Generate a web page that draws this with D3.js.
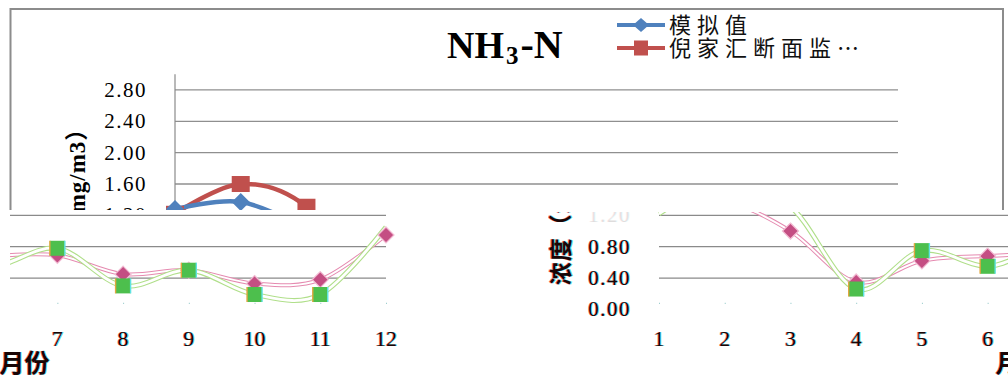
<!DOCTYPE html>
<html><head><meta charset="utf-8">
<script src="https://cdn.jsdelivr.net/npm/d3@7"></script>
<style>html,body{margin:0;padding:0;background:#fff;overflow:hidden}</style>
</head><body>
<svg id="c" width="1008" height="378"></svg>
<script>
// ---------- data ----------
const months = [1,2,3,4,5,6,7,8,9,10,11,12];
const simValues = [1.28,1.37,1.00,0.35,0.62,0.68,0.69,0.45,0.50,0.33,0.38,0.95];   // 模拟值
const obsValues = [1.22,1.60,1.31,0.26,0.75,0.55,0.78,0.30,0.50,0.19,0.19,1.05];   // 倪家汇断面监测值
const yTicks = [0,0.4,0.8,1.2,1.6,2.0,2.4,2.8];
const seriesNames = ["模拟值","倪家汇断面监…"];
const titleParts = ["NH","3","-N"];
const yTitleParts = ["浓度（","mg/m3","）"];
const xTitle = "月份";

// ---------- setup ----------
const svg = d3.select("#c");
const x = d3.scaleLinear().domain([1,12]).range([175,898]);
const y = d3.scaleLinear().domain([0,3]).range([309.4,74.3]);
const serif = "Liberation Serif, Noto Sans CJK SC, serif";
const cjk = "Noto Sans CJK SC, Liberation Serif, sans-serif";
const seamValue = 1.0;   // markers above this level are lost in the bottom (glitched) strip

function layers(mode){
  return mode==="bottom" ? [["#ff3030",-0.8,0.7],["#00dede",0.8,0.7],["#1a0505",0,1]] : [["#000",0,1]];
}
function txt(g, mode, x0, y0, str, attrs, opacity){
  layers(mode).forEach(([col,dx,op])=>{
    const t = g.append("text").attr("x",x0+dx).attr("y",y0).attr("fill",col)
      .attr("opacity",op*(opacity==null?1:opacity)).text(str);
    for (const k in attrs) t.attr(k, attrs[k]);
  });
}

const lineGen = d3.line().x((d,i)=>x(months[i])).y(d=>y(d)).curve(d3.curveCardinal.tension(0));

function drawChart(g, mode){
  const top = mode==="top";
  if (top) g.append("rect").attr("x",10.5).attr("y",9).attr("width",992.5).attr("height",360)
      .attr("fill","none").attr("stroke","#8c8c8c").attr("stroke-width",2);
  g.selectAll(null).data(yTicks.filter(t=>t>0)).enter().append("line")
    .attr("x1",x(1)).attr("x2",x(12)).attr("y1",d=>y(d)).attr("y2",d=>y(d))
    .attr("stroke", top?"#8f8f8f":"#8a8a8a").attr("stroke-width",1.3);
  if (top) g.append("line").attr("x1",x(1)).attr("x2",x(1)).attr("y1",y(0)).attr("y2",y(3))
      .attr("stroke","#8a8a8a").attr("stroke-width",1.2);
  if (!top) g.selectAll(null).data(months).enter().append("line")
      .attr("x1",d=>x(d)).attr("x2",d=>x(d)+1).attr("y1",y(0)-6).attr("y2",y(0)-6)
      .attr("stroke","#9fcfcf").attr("stroke-width",1.2);
  yTicks.forEach(t=>{
    txt(g, mode, 147, y(t)+7, d3.format(".2f")(t),
      {"text-anchor":"end","font-family":serif,"font-size":21,"letter-spacing":1.5},
      (!top && t>=1.2)?0.08:1);
  });
  months.forEach(m=>{
    txt(g, mode, x(m), 346, String(m), {"text-anchor":"middle","font-family":serif,"font-size":22});
  });
  layers(mode).forEach(([col,dx,op])=>{
    const t = g.append("text").attr("transform",`translate(${85+dx},201) rotate(-90)`)
      .attr("text-anchor","middle").attr("fill",col).attr("opacity",op)
      .attr("font-family",serif).attr("font-weight","bold").attr("font-size",23).attr("letter-spacing",1);
    t.selectAll("tspan").data(yTitleParts).enter().append("tspan").text(d=>d);
  });
  txt(g, mode, (x(1)+x(12))/2, 372, xTitle,
      {"text-anchor":"middle","font-family":serif,"font-weight":"bold","font-size":25});

  const simCol = top?"#4f81bd":"#c44e83", obsCol = top?"#c0504d":"#4dbf4d";
  if (top){
    g.append("path").attr("d",lineGen(obsValues)).attr("fill","none").attr("stroke",obsCol).attr("stroke-width",4.5);
    g.append("path").attr("d",lineGen(simValues)).attr("fill","none").attr("stroke",simCol).attr("stroke-width",4.5);
    g.selectAll(null).data(obsValues).enter().append("rect")
      .attr("x",(d,i)=>x(months[i])-9).attr("y",d=>y(d)-8).attr("width",18).attr("height",16).attr("fill",obsCol);
    g.selectAll(null).data(simValues).enter().append("path")
      .attr("transform",(d,i)=>`translate(${x(months[i])},${y(d)})`)
      .attr("d","M0,-9L9,0L0,9L-9,0Z").attr("fill",simCol);
  } else {
    g.append("path").attr("d",lineGen(simValues)).attr("fill","none").attr("stroke","#e58ab0").attr("stroke-width",4);
    g.append("path").attr("d",lineGen(simValues)).attr("fill","none").attr("stroke","#fff").attr("stroke-width",2);
    g.append("path").attr("d",lineGen(obsValues)).attr("fill","none").attr("stroke","#b0df8a").attr("stroke-width",5);
    g.append("path").attr("d",lineGen(obsValues)).attr("fill","none").attr("stroke","#fff").attr("stroke-width",2.8);
    const simPts = simValues.map((v,i)=>({v,m:months[i]})).filter(d=>d.v<=seamValue);
    const obsPts = obsValues.map((v,i)=>({v,m:months[i]})).filter(d=>d.v<=seamValue);
    g.selectAll(null).data(simPts).enter().append("path")
      .attr("transform",d=>`translate(${x(d.m)},${y(d.v)})`)
      .attr("d","M0,-8L8,0L0,8L-8,0Z").attr("fill",simCol).attr("stroke","#f2bcd3").attr("stroke-width",1.2);
    const sq = g.selectAll(null).data(obsPts).enter().append("g")
      .attr("transform",d=>`translate(${x(d.m)},${y(d.v)})`);
    sq.append("rect").attr("x",-7.5).attr("y",-7.5).attr("width",15).attr("height",15).attr("fill",obsCol);
    sq.append("line").attr("x1",-7.5).attr("x2",-7.5).attr("y1",-7.5).attr("y2",7.5).attr("stroke","#e0a640").attr("stroke-width",1.4);
    sq.append("line").attr("x1",7.5).attr("x2",7.5).attr("y1",-7.5).attr("y2",7.5).attr("stroke","#5fe3e3").attr("stroke-width",1.4);
  }

  if (top){
    const tt = g.append("text").attr("x",447).attr("y",58).attr("font-family",serif)
      .attr("font-weight","bold").attr("font-size",38).attr("fill","#000");
    tt.append("tspan").text(titleParts[0]);
    tt.append("tspan").attr("font-size",25).attr("dx",2).attr("dy",6).text(titleParts[1]);
    tt.append("tspan").attr("dx",2).attr("dy",-6).attr("font-size",40).text(titleParts[2]);
    const leg = [{c:"#4f81bd",shape:"d",y:25},{c:"#c0504d",shape:"s",y:48}];
    leg.forEach((l,i)=>{
      g.append("line").attr("x1",617).attr("x2",665).attr("y1",l.y).attr("y2",l.y).attr("stroke",l.c).attr("stroke-width",4);
      if (l.shape==="d") g.append("path").attr("transform",`translate(641,${l.y})`).attr("d","M0,-7L8,0L0,7L-8,0Z").attr("fill",l.c);
      else g.append("rect").attr("x",634).attr("y",l.y-7.5).attr("width",14).attr("height",15).attr("fill",l.c);
      g.append("text").attr("x",669).attr("y",l.y+7.5).attr("font-family",cjk).attr("font-size",22)
        .attr("letter-spacing",6).attr("fill","#111").text(seriesNames[i]);
    });
  }
}

// ---------- composite: top part as is, bottom strip wrapped horizontally ----------
const defs = svg.append("defs");
defs.append("clipPath").attr("id","cTop").append("rect").attr("x",0).attr("y",0).attr("width",1008).attr("height",210);
defs.append("clipPath").attr("id","cBR").append("rect").attr("x",484).attr("y",212).attr("width",524).attr("height",166);
defs.append("clipPath").attr("id","cBL").append("rect").attr("x",0).attr("y",212).attr("width",484).attr("height",166);

drawChart(svg.append("g").attr("clip-path","url(#cTop)").append("g"), "top");
drawChart(svg.append("g").attr("clip-path","url(#cBR)").append("g").attr("transform","translate(484,0)"), "bottom");
drawChart(svg.append("g").attr("clip-path","url(#cBL)").append("g").attr("transform","translate(-512,0)"), "bottom");
svg.append("rect").attr("x",0).attr("y",212).attr("width",10).attr("height",110).attr("fill","#fff");
</script>
</body></html>
